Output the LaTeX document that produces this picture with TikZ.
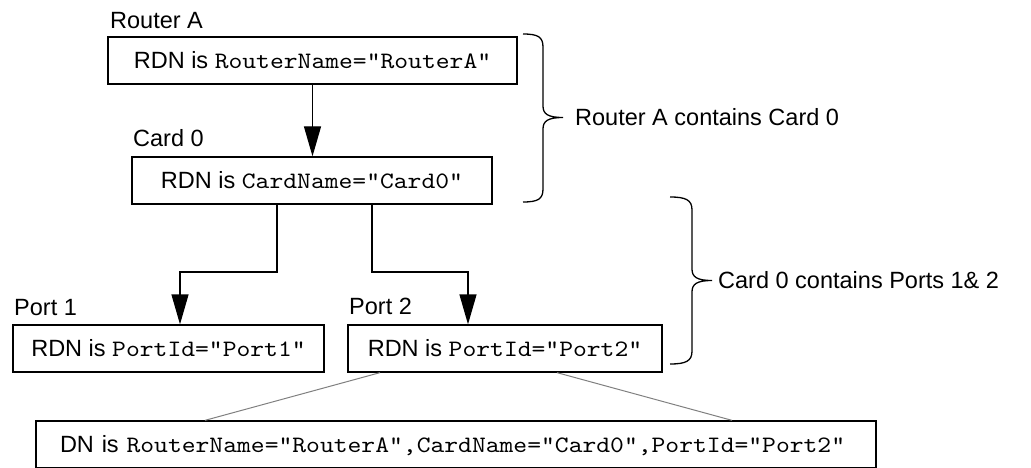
\documentclass[tikz,border=0pt]{standalone}
\usepackage{fontspec}
\setmainfont{Liberation Sans}
\newfontfamily\codefont{lmmono10-regular.otf}[FakeStretch=1.12]
\newcommand\code[1]{{\codefont #1}}
\usetikzlibrary{arrows.meta}

\tikzset{
  txt/.style={font=\fontsize{23.5}{28}\selectfont, inner sep=0pt,
    text height=16.8pt, text depth=0pt},
  rdnbox/.style={txt, draw, line width=1.3pt, minimum height=47pt},
  tag/.style={font=\fontsize{23.5}{28}\selectfont, inner sep=0pt, anchor=base west},
  link/.style={line width=1.3pt, -{Triangle[length=30pt,width=17pt]}},
  zoomline/.style={draw=black!50, line width=1pt},
  bracket/.style={line width=1.3pt},
  note/.style={txt, anchor=west},
}

\begin{document}
\begin{tikzpicture}[x=1pt,y=-1pt]
\useasboundingbox (0,0) rectangle (1031,468);

% object boxes with their relative names
\node[rdnbox, minimum width=409pt] (router) at (312.5,60.5)
  {RDN is \code{RouterName="RouterA"}};
\node[rdnbox, minimum width=360pt] (card) at (312,180.5)
  {RDN is \code{CardName="Card0"}};
\node[rdnbox, minimum width=311pt] (port1) at (168.5,348.5)
  {RDN is \code{PortId="Port1"}};
\node[rdnbox, minimum width=314pt] (port2) at (505,348.5)
  {RDN is \code{PortId="Port2"}};
\node[rdnbox, text width=832pt, inner xsep=4pt, align=left] (dn) at (456,444.5)
  {\hspace*{20pt}DN is \code{RouterName="RouterA",CardName="Card0",PortId="Port2"}};

% titles above the boxes
\node[tag] (tRouter) at (110,29) {Router A};
\node[tag] (tCard) at (133,147) {Card 0};
\node[tag] (tPort1) at (14,315) {Port 1};
\node[tag] (tPort2) at (349,314) {Port 2};

% containment arrows
\coordinate (j1) at (277,272);
\coordinate (k1) at (180,272);
\coordinate (j2) at (372,272);
\coordinate (k2) at (468,272);
\draw[link] (router.south) -- (router.south |- card.north);
\draw[link] (card.south -| j1) -- (j1) -- (k1) -- (k1 |- port1.north);
\draw[link] (card.south -| j2) -- (j2) -- (k2) -- (k2 |- port2.north);

% the full DN expands the Port 2 entry
\coordinate (g1) at (380,0);
\coordinate (g2) at (205,0);
\coordinate (g3) at (557,0);
\coordinate (g4) at (732,0);
\draw[zoomline] (port2.south -| g1) -- (dn.north -| g2);
\draw[zoomline] (port2.south -| g3) -- (dn.north -| g4);

% braces with their notes
\coordinate (tip1) at (563,117.5);
\draw[bracket] (523,34) .. controls (538,34) and (543,37) .. (543,47)
  -- (543,106) .. controls (543,114) and (548,117.5) .. (tip1)
  .. controls (548,117.5) and (543,121) .. (543,129)
  -- (543,189) .. controls (543,199) and (538,202) .. (523,202);
\node[note] (n1) at (575,117.5) {Router A contains Card 0};

\coordinate (tip2) at (712,280.5);
\draw[bracket] (670,197) .. controls (686,197) and (692,200) .. (692,210)
  -- (692,269) .. controls (692,277) and (697,280.5) .. (tip2)
  .. controls (697,280.5) and (692,284) .. (692,292)
  -- (692,351) .. controls (692,361) and (686,364) .. (670,364);
\node[note] (n2) at (718,280.5) {Card 0 contains Ports 1\& 2};
\end{tikzpicture}
\end{document}
